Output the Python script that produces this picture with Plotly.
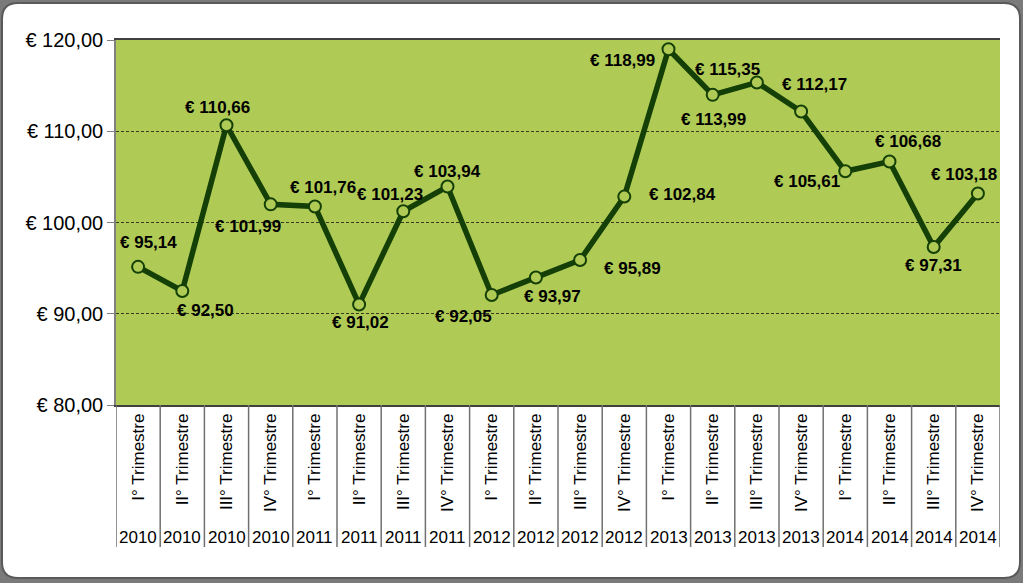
import plotly.graph_objects as go

quarters = ["I° Trimestre", "II° Trimestre", "III° Trimestre", "IV° Trimestre"] * 5
years = ["2010"] * 4 + ["2011"] * 4 + ["2012"] * 4 + ["2013"] * 4 + ["2014"] * 4
values = [95.14, 92.50, 110.66, 101.99, 101.76, 91.02, 101.23, 103.94,
          92.05, 93.97, 95.89, 102.84, 118.99, 113.99, 115.35, 112.17,
          105.61, 106.68, 97.31, 103.18]
y_ticks = [80, 90, 100, 110, 120]

# label offsets from each marker, in pixels (styling)
label_dx = [10, 23, -9, -23, 8, 1, -13, 0, -28, 17, 52, 58, -46, 1, -29, 13, -38, 18, 0, -14]
label_dy = [-24, 20, -18, 22, -19, 18, -17, -15, 21, 19, 8, -2, 11, 25, -13, -27, 10, -20, 18, -19]

W, H = 1023, 583
L, R, T, B = 116, 1000, 40, 405
FONT = "Liberation Sans, Arial, sans-serif"
GREEN = "#AFCB55"
DARK = "#143F07"


def fx(px):
    return (px - L) / (R - L)


def fy(py):
    return (B - py) / (B - T)


def euro(v):
    return "€ " + f"{v:.2f}".replace(".", ",")


def rounded_rect(x0, y0, x1, y1, r):
    return (f"M {fx(x0 + r)},{fy(y0)} L {fx(x1 - r)},{fy(y0)} "
            f"Q {fx(x1)},{fy(y0)} {fx(x1)},{fy(y0 + r)} "
            f"L {fx(x1)},{fy(y1 - r)} Q {fx(x1)},{fy(y1)} {fx(x1 - r)},{fy(y1)} "
            f"L {fx(x0 + r)},{fy(y1)} Q {fx(x0)},{fy(y1)} {fx(x0)},{fy(y1 - r)} "
            f"L {fx(x0)},{fy(y0 + r)} Q {fx(x0)},{fy(y0)} {fx(x0 + r)},{fy(y0)} Z")


idx = list(range(len(values)))

fig = go.Figure()
fig.add_trace(go.Scatter(
    x=idx, y=values, mode="lines+markers",
    line=dict(color=DARK, width=5.5),
    marker=dict(symbol="circle", size=12, color=GREEN,
                line=dict(color=DARK, width=2)),
    cliponaxis=False, showlegend=False, hoverinfo="skip",
))

shapes = [
    dict(type="path", xref="paper", yref="paper", path=rounded_rect(2, 3, 1020, 578, 16),
         fillcolor="white", line=dict(color="#5a5a5a", width=2), layer="below"),
    dict(type="rect", xref="paper", yref="paper", x0=0, x1=1, y0=0, y1=1,
         fillcolor=GREEN, line=dict(width=0), layer="below"),
]
for i in range(len(values) + 1):
    shapes.append(dict(type="line", xref="x", yref="paper", x0=i - 0.5, x1=i - 0.5,
                       y0=0, y1=fy(547), line=dict(color="#707070", width=1.5)))

annotations = []
for i, yr in enumerate(years):
    annotations.append(dict(x=i, y=fy(537), xref="x", yref="paper", text=yr,
                            showarrow=False, xanchor="center", yanchor="middle",
                            font=dict(family=FONT, size=17, color="black")))
for i, v in enumerate(values):
    annotations.append(dict(x=i, y=v, xref="x", yref="y", text=euro(v),
                            showarrow=False, xanchor="center", yanchor="middle",
                            xshift=label_dx[i], yshift=-label_dy[i],
                            font=dict(family=FONT, size=17, color="black", weight="bold")))

fig.update_layout(
    width=W, height=H,
    margin=dict(l=L, r=W - R, t=T, b=H - B),
    paper_bgcolor="#7a7a7a",
    plot_bgcolor="rgba(0,0,0,0)",
    shapes=shapes,
    annotations=annotations,
    xaxis=dict(range=[-0.5, len(values) - 0.5], tickmode="array", tickvals=idx,
               ticktext=quarters, tickangle=-90, showgrid=False, zeroline=False,
               showline=True, linecolor="#404040", linewidth=1.5, mirror=True,
               ticks="", tickfont=dict(family=FONT, size=17, color="black")),
    yaxis=dict(range=[80, 120], tickmode="array", tickvals=y_ticks,
               ticktext=[euro(t) for t in y_ticks],
               showgrid=True, gridcolor="#3a3a20", gridwidth=1, griddash="3px,2px",
               zeroline=False, showline=True, linecolor="#808080", linewidth=1.5,
               ticks="outside", ticklen=7, tickcolor="#808080",
               tickfont=dict(family=FONT, size=20, color="black")),
)

fig.write_html("out.html")
